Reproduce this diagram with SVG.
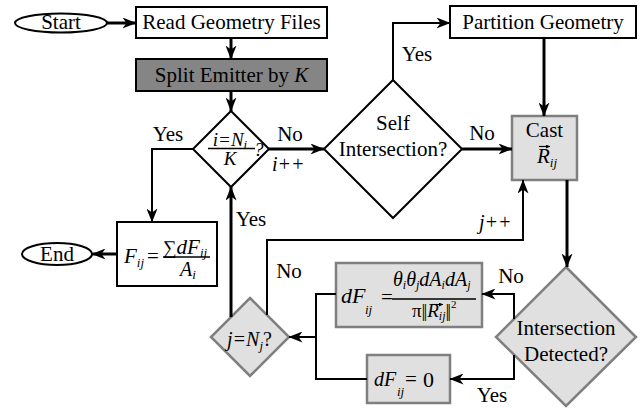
<svg xmlns="http://www.w3.org/2000/svg" width="641" height="408" viewBox="0 0 641 408">
<style>
.t{font-family:"Liberation Serif","DejaVu Serif",serif;font-size:21px;fill:#000}
.m{font-style:italic}
.c{text-anchor:middle}
.w{fill:#fff;stroke:#000;stroke-width:2}
.dk{fill:#858585;stroke:#000;stroke-width:2}
.lt{fill:#e0e0e0;stroke:#7f7f7f;stroke-width:2.5}
.ln{fill:none;stroke:#000;stroke-width:2}
.th{stroke-width:3}
.fr{stroke:#000;stroke-width:1.4}
.nb{letter-spacing:-2px}
</style>
<defs>
<marker id="ah" markerUnits="userSpaceOnUse" markerWidth="15" markerHeight="11" refX="13.5" refY="5.5" orient="auto">
<path d="M0,0 L14,5.5 L0,11 L4,5.5 z" fill="#000"/>
</marker>
<marker id="sa" markerUnits="userSpaceOnUse" markerWidth="5" markerHeight="4" refX="4" refY="2" orient="auto">
<path d="M0,0 L4,2 L0,4 z" fill="#000"/>
</marker>
</defs>

<g id="start"><ellipse cx="61" cy="23" rx="46" ry="9.5" class="w"/><text x="61" y="29" class="t c">Start</text></g>
<g id="read"><rect x="136" y="7" width="191" height="31" class="w"/><text x="231.5" y="29" class="t c">Read Geometry Files</text></g>
<g id="split"><rect x="136" y="59" width="191" height="32" class="dk"/><text x="231.5" y="82" class="t c">Split Emitter by <tspan class="m">K</tspan></text></g>
<g id="idiam"><polygon points="231,111 269,149 231,187 193,149" class="w"/>
<text x="230" y="146" class="t c m" style="font-size:19px">i=N<tspan font-size="13" dy="3">i</tspan></text>
<line x1="208" y1="148.5" x2="255" y2="148.5" class="fr"/>
<text x="230" y="165" class="t c m" style="font-size:19px">K</text>
<text x="254" y="156" class="t m" style="font-size:19px">?</text></g>
<g id="self"><polygon points="393,80 462,149 393,218 324,149" class="w"/><text x="393" y="130" class="t c">Self</text><text x="393" y="156" class="t c">Intersection?</text></g>
<g id="partition"><rect x="450" y="6" width="186" height="32" class="w"/><text x="543" y="29" class="t c">Partition Geometry</text></g>
<g id="cast"><rect x="512" y="116" width="65" height="64" class="lt"/><text x="544.5" y="137" class="t c">Cast</text>
<text x="537" y="163" class="t m">R<tspan font-size="13" dy="4">ij</tspan></text>
<line x1="539" y1="146.5" x2="550" y2="146.5" stroke="#000" stroke-width="1.2" marker-end="url(#sa)"/></g>
<g id="isect"><polygon points="566,267 636,337 566,406 496,337" class="lt"/><text x="566" y="335" class="t c">Intersection</text><text x="566" y="361" class="t c">Detected?</text></g>
<g id="dF"><rect x="336" y="263" width="146" height="64" class="lt"/>
<text x="341" y="303" class="t m" style="font-size:22px">dF</text>
<text x="365" y="314" class="t m" style="font-size:13px">ij</text>
<text x="381" y="304" class="t">=</text>
<text x="393" y="286" class="t m" style="font-size:20px">θ<tspan font-size="12" dy="3">i</tspan><tspan dy="-3">θ</tspan><tspan font-size="12" dy="3">j</tspan><tspan dy="-3">dA</tspan><tspan font-size="12" dy="3">i</tspan><tspan dy="-3">dA</tspan><tspan font-size="12" dy="3">j</tspan></text>
<line x1="392" y1="299" x2="476" y2="299" class="fr"/>
<text x="412" y="317" class="t" style="font-size:19px">π<tspan class="nb">||</tspan><tspan class="m" dx="2">R</tspan><tspan class="m" font-size="12" dy="3">ij</tspan><tspan class="nb" dy="-3">||</tspan><tspan font-size="11" dy="-9" dx="2">2</tspan></text>
<line x1="432" y1="304.5" x2="443" y2="304.5" stroke="#000" stroke-width="1.1" marker-end="url(#sa)"/></g>
<g id="dF0"><rect x="367" y="355" width="83" height="48" class="lt"/>
<text x="374" y="386" class="t m" style="font-size:20px">dF</text>
<text x="397" y="396" class="t m" style="font-size:13px">ij</text>
<text x="405" y="386" class="t" style="font-size:21px">=</text><text x="423" y="387" class="t" style="font-size:22px">0</text></g>
<g id="jdiam"><polygon points="250,298 289,337 250,376 211,337" class="lt"/>
<text x="227" y="346" class="t m" style="font-size:20px">j=N<tspan font-size="13" dy="4">j</tspan><tspan dy="-4" font-style="normal">?</tspan></text></g>
<g id="F"><rect x="117" y="222" width="100" height="64" class="w"/>
<text x="124" y="263" class="t m">F<tspan font-size="13" dy="4">ij</tspan></text>
<text x="147" y="263" class="t">=</text>
<text x="163" y="254" class="t" style="font-size:19px">∑<tspan class="m" font-size="21">dF</tspan><tspan class="m" font-size="13" dy="3">ij</tspan></text>
<line x1="163" y1="257" x2="210" y2="257" class="fr"/>
<text x="180" y="276" class="t m" style="font-size:20px">A<tspan font-size="13" dy="3">i</tspan></text></g>
<g id="end"><ellipse cx="57" cy="254" rx="35" ry="11" class="w"/><text x="57" y="261" class="t c">End</text></g>

<g id="connectors">
<line x1="107" y1="23" x2="136" y2="23" class="ln th" marker-end="url(#ah)"/>
<line x1="231" y1="38" x2="231" y2="59" class="ln th" marker-end="url(#ah)"/>
<line x1="231" y1="91" x2="231" y2="111" class="ln th" marker-end="url(#ah)"/>
<line x1="269" y1="149" x2="324" y2="149" class="ln th" marker-end="url(#ah)"/>
<polyline points="193,149 152,149 152,222" class="ln" marker-end="url(#ah)"/>
<polyline points="393,80 393,23 450,23" class="ln" marker-end="url(#ah)"/>
<line x1="462" y1="149" x2="512" y2="149" class="ln th" marker-end="url(#ah)"/>
<line x1="544" y1="38" x2="544" y2="116" class="ln th" marker-end="url(#ah)"/>
<line x1="567" y1="180" x2="567" y2="267" class="ln th" marker-end="url(#ah)"/>
<polyline points="514,319 514,294 482,294" class="ln" marker-end="url(#ah)"/>
<polyline points="514,355 514,379 450,379" class="ln" marker-end="url(#ah)"/>
<polyline points="336,294 316,294 316,379 367,379" class="ln"/>
<line x1="316" y1="337" x2="289" y2="337" class="ln" marker-end="url(#ah)"/>
<line x1="231" y1="317" x2="231" y2="187" class="ln th" marker-end="url(#ah)"/>
<polyline points="267,315 267,240 523,240 523,180" class="ln" marker-end="url(#ah)"/>
<line x1="117" y1="254" x2="92" y2="254" class="ln th" marker-end="url(#ah)"/>
<text x="168" y="141" class="t c">Yes</text>
<text x="290" y="141" class="t c">No</text>
<text x="272" y="171" class="t m" style="font-size:20px">i++</text>
<text x="417" y="61" class="t c">Yes</text>
<text x="482" y="140" class="t c">No</text>
<text x="479" y="229" class="t m" style="font-size:20px">j++</text>
<text x="251" y="226" class="t c">Yes</text>
<text x="289" y="278" class="t c">No</text>
<text x="511" y="283" class="t c">No</text>
<text x="492" y="402" class="t c">Yes</text>
</g>
</svg>
